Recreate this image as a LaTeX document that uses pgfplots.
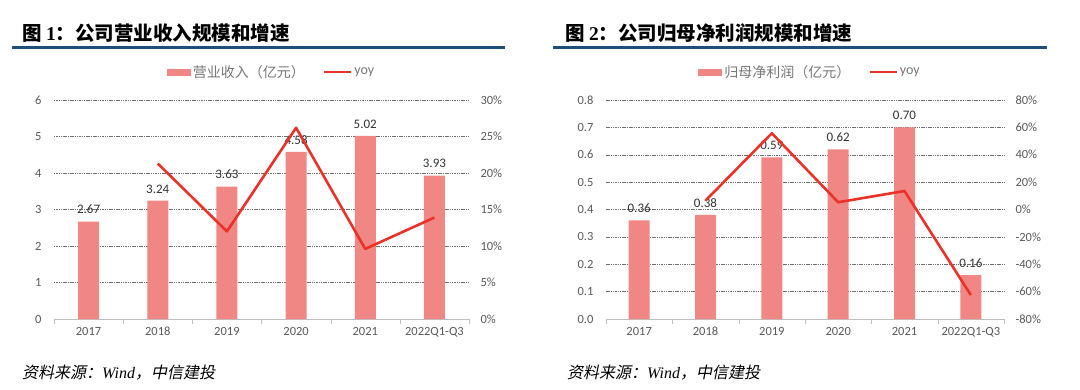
\documentclass[border=0pt]{standalone}
\usepackage{fontspec}
\usepackage{pgfplots}
\pgfplotsset{compat=1.18}
\setmainfont{Carlito}
\newfontfamily\cjk{Noto Sans CJK SC}
\newfontfamily\cjkit{Noto Sans CJK SC}[FakeSlant=0.2]
\newfontfamily\tnr{Liberation Serif}
\definecolor{barc}{RGB}{240,135,132}
\definecolor{linec}{RGB}{234,50,40}
\definecolor{rulec}{RGB}{31,78,121}
\definecolor{tickc}{RGB}{89,89,89}
\definecolor{gridc}{RGB}{110,110,110}
\definecolor{legc}{RGB}{118,118,118}
\pgfplotsset{
  base/.style={
    scale only axis, anchor=south west,
    xmin=-0.5, xmax=5.5,
    xtick={0,...,5},
    xticklabels={2017,2018,2019,2020,2021,2022Q1-Q3},
    major tick length=0pt,
    minor xtick={-0.5,0.5,...,5.5},
    minor tick length=5pt,
    tick align=outside,
    minor tick style={draw=gray!50},
    ticklabel style={font=\fontsize{12.5}{14}\selectfont, text=tickc},
    /pgf/number format/assume math mode=true,
    axis x line*=bottom,
    x axis line style={-, draw=gray!50},
    axis y line*=left,
    y axis line style={draw=none},
    ymajorgrids,
    major grid style={dash pattern=on 1.5pt off 0.8pt, gridc, line width=0.5pt},
    xticklabel style={yshift=-4pt, text height=9pt, text depth=2pt},
    yticklabel style={xshift=-9pt},
  },
  twin/.style={
    scale only axis, anchor=south west,
    xmin=-0.5, xmax=5.5,
    axis x line=none,
    axis y line*=right,
    y axis line style={draw=none},
    major tick length=0pt,
    ticklabel style={font=\fontsize{12.5}{14}\selectfont, text=tickc},
    /pgf/number format/assume math mode=true,
    yticklabel={\pgfmathprintnumber{\tick}\%},
    yticklabel style={xshift=8pt},
  },
  barplot/.style={
    ybar, bar width=21pt, fill=barc, draw=none,
    nodes near coords, point meta=y,
    nodes near coords style={font=\fontsize{13}{15}\selectfont, text=black!80, yshift=4pt,
      /pgf/number format/.cd, fixed, zerofill, precision=2},
  },
  lineplot/.style={line width=2.6pt, linec, mark=none, line join=round},
  leg/.style={
    legend style={at={(0.5,1)}, anchor=south, yshift=19pt, draw=none, fill=none,
      legend columns=-1, inner sep=0pt,
      font=\fontsize{14}{16}\selectfont, text=legc,
      /tikz/every even column/.append style={column sep=16pt}},
  },
}
\begin{document}
\begin{tikzpicture}
\useasboundingbox (0,0) rectangle (1080pt,389pt);
% ---------- Panel 1 ----------
\node[anchor=west, inner sep=0pt] at (22pt,356pt) {\fontsize{19.5}{21}\selectfont\cjk\bfseries 图 {\tnr\bfseries 1}：公司营业收入规模和增速};
\fill[rulec] (12pt,339.5pt) rectangle (505pt,342.5pt);
\node[anchor=west, inner sep=0pt] at (22pt,16pt) {\fontsize{16}{18}\selectfont\cjkit 资料来源：{\tnr\itshape Wind}，中信建投};
\begin{axis}[base, leg, legend style={xshift=10pt}, at={(54pt,70pt)}, width=415pt, height=219pt,
  ymin=0, ymax=6, ytick={0,...,6}]
  \addplot[barplot, area legend, legend image code/.code={\fill[barc] (0pt,-3.5pt) rectangle (24pt,3.5pt);}]
    coordinates {(0,2.67) (1,3.24) (2,3.63) (3,4.58) (4,5.02) (5,3.93)};
  \addlegendentry{\cjk 营业收入（亿元）}
  \addlegendimage{legend image code/.code={\draw[line width=2.6pt, linec] (0pt,0pt) -- (27pt,0pt);}}
  \addlegendentry{yoy}
\end{axis}
\begin{axis}[twin, at={(54pt,70pt)}, width=415pt, height=219pt,
  ymin=0, ymax=30, ytick={0,5,...,30}]
  \addplot[lineplot] coordinates {(1,21.3) (2,12.0) (3,26.2) (4,9.6) (5,13.9)};
\end{axis}
% ---------- Panel 2 ----------
\node[anchor=west, inner sep=0pt] at (565pt,356pt) {\fontsize{19.5}{21}\selectfont\cjk\bfseries 图 {\tnr\bfseries 2}：公司归母净利润规模和增速};
\fill[rulec] (553pt,339.5pt) rectangle (1047pt,342.5pt);
\node[anchor=west, inner sep=0pt] at (567pt,16pt) {\fontsize{16}{18}\selectfont\cjkit 资料来源：{\tnr\itshape Wind}，中信建投};
\begin{axis}[base, leg, legend style={xshift=5pt}, at={(606pt,70pt)}, width=398pt, height=219pt,
  ymin=0, ymax=0.8, ytick={0,0.1,...,0.8},
  yticklabel style={/pgf/number format/.cd, fixed, zerofill, precision=1}]
  \addplot[barplot, area legend, legend image code/.code={\fill[barc] (0pt,-3.5pt) rectangle (24pt,3.5pt);}]
    coordinates {(0,0.36) (1,0.38) (2,0.59) (3,0.62) (4,0.70) (5,0.16)};
  \addlegendentry{\cjk 归母净利润（亿元）}
  \addlegendimage{legend image code/.code={\draw[line width=2.6pt, linec] (0pt,0pt) -- (27pt,0pt);}}
  \addlegendentry{yoy}
\end{axis}
\begin{axis}[twin, at={(606pt,70pt)}, width=398pt, height=219pt,
  ymin=-80, ymax=80, ytick={-80,-60,...,80}]
  \addplot[lineplot] coordinates {(1,6.5) (2,55.7) (3,5.3) (4,13.5) (5,-62.5)};
\end{axis}
\end{tikzpicture}
\end{document}
